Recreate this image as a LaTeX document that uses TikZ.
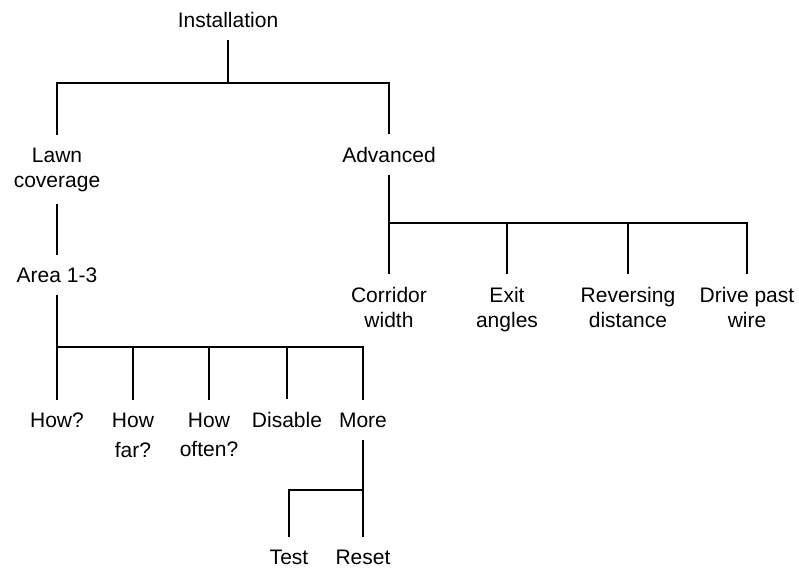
\documentclass[tikz,border=0pt]{standalone}
\usepackage{fontspec}
\setmainfont{Liberation Sans}
\tikzset{
    etiqueta/.style={font=\fontsize{10.5}{12.5}\selectfont, align=center, anchor=base, inner xsep=2pt, inner ysep=6pt},
    rama/.style={line width=1.3pt},
}
\begin{document}
\begin{tikzpicture}[x=0.5pt, y=-0.5pt]
\useasboundingbox (0,0) rectangle (799,569);
% Level 0: root
\node[etiqueta] (inst) at (228,27) {Installation};
% Level 1 (two-line nodes sit on their last baseline)
\node[etiqueta] (lawn) at (57,187) {Lawn\\coverage};
\node[etiqueta] (adv) at (389,162) {Advanced};
\coordinate (b1) at (228,83);
\draw[rama] (inst.south) -- (b1);
\draw[rama] (lawn.north) |- (b1) -| (adv.north);
% Lawn coverage branch
\node[etiqueta] (area) at (57,282) {Area 1-3};
\draw[rama] (lawn.south) -- (area.north);
\node[etiqueta] (how) at (57,427) {How?};
\node[etiqueta] (far) at (133,457) {How\\[2.5pt]far?};
\node[etiqueta] (often) at (209,456) {How\\[2pt]often?};
\node[etiqueta] (dis) at (287,427) {Disable};
\node[etiqueta] (more) at (363,427) {More};
\coordinate (b3) at (57,347);
\draw[rama] (area.south) -- (how.north);
\draw[rama] (b3) -| (more.north);
\foreach \n in {far, often, dis} {
    \draw[rama] (b3 -| \n.north) -- (\n.north);
}
% More branch
\node[etiqueta] (test) at (289,564) {Test};
\node[etiqueta] (reset) at (363,564) {Reset};
\coordinate (b4) at (363,490);
\draw[rama] (more.south) -- (reset.north);
\draw[rama] (b4) -| (test.north);
% Advanced branch
\node[etiqueta] (corr) at (389,327) {Corridor\\width};
\node[etiqueta] (exit) at (507,327) {Exit\\angles};
\node[etiqueta] (rev) at (628,327) {Reversing\\distance};
\node[etiqueta] (drive) at (747,327) {Drive past\\wire};
\coordinate (b2) at (389,223);
\draw[rama] (adv.south) -- (corr.north);
\draw[rama] (b2) -| (drive.north);
\foreach \n in {exit, rev} {
    \draw[rama] (b2 -| \n.north) -- (\n.north);
}
\end{tikzpicture}
\end{document}
